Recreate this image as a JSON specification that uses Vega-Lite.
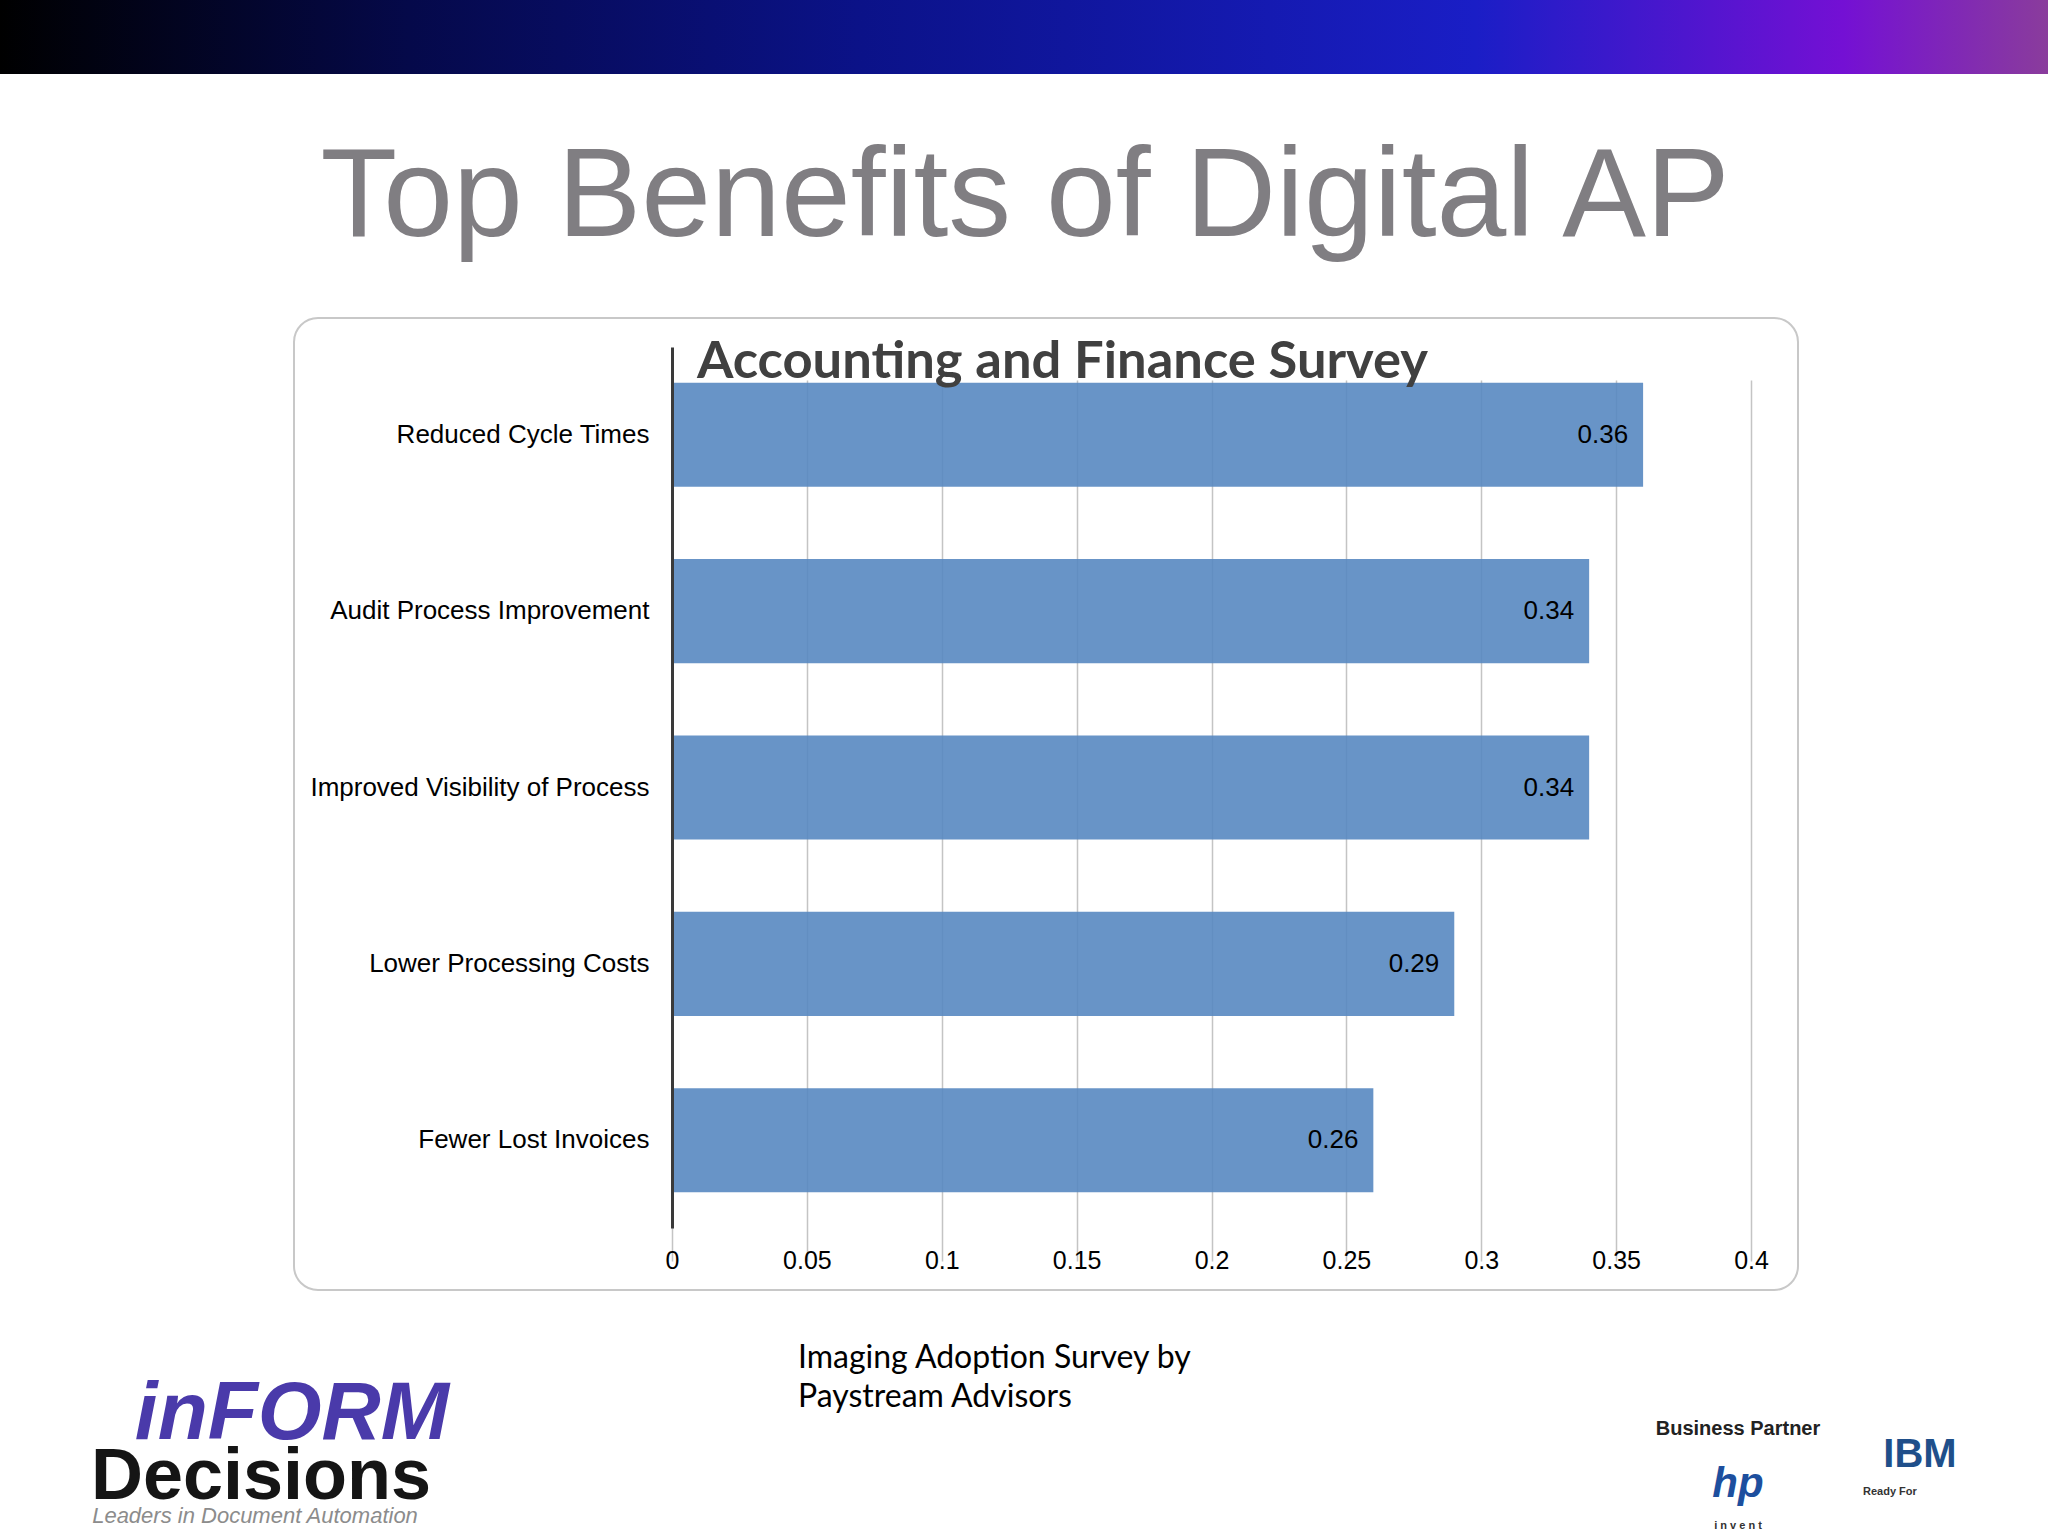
{
  "$schema": "https://vega.github.io/schema/vega-lite/v6.json",
  "background": "white",
  "padding": 0,
  "spacing": 0,
  "config": {"view": {"stroke": null}, "concat": {"spacing": 0}},
  "vconcat": [
    {
      "width": 2048,
      "height": 74,
      "data": {"values": [{"band": "header"}]},
      "mark": {
        "type": "rect",
        "fill": {
          "gradient": "linear", "x1": 0, "y1": 0, "x2": 1, "y2": 0,
          "stops": [
            {"offset": 0, "color": "#000000"},
            {"offset": 0.2, "color": "#05094a"},
            {"offset": 0.42, "color": "#0b1288"},
            {"offset": 0.72, "color": "#1a1ec6"},
            {"offset": 0.9, "color": "#7410d4"},
            {"offset": 1, "color": "#8a3c9c"}
          ]
        }
      },
      "encoding": {}
    },
    {
      "width": 2048,
      "height": 243,
      "data": {"values": [{"t": "Top Benefits of Digital AP"}]},
      "mark": {"type": "text", "font": "Liberation Sans", "fontSize": 125.5, "color": "#807e82", "baseline": "alphabetic", "align": "center", "dx": 1, "dy": 40.5},
      "encoding": {"text": {"field": "t", "type": "nominal"}}
    },
    {
      "spacing": 0,
      "hconcat": [
        {
          "width": 293,
          "height": 972,
          "data": {"values": [{"s": ""}]},
          "mark": {"type": "rect", "opacity": 0},
          "encoding": {}
        },
        {
          "width": 1504,
          "height": 972,
          "view": {"stroke": "#c8c8c8", "strokeWidth": 2, "cornerRadius": 24, "fill": "white"},
          "title": {
            "text": "Accounting and Finance Survey",
            "anchor": "start",
            "frame": "group",
            "dx": 403,
            "dy": 53,
            "offset": -59,
            "baseline": "alphabetic",
            "font": "Lato",
            "fontSize": 52.5,
            "fontWeight": "bold",
            "color": "#404040"
          },
          "data": {
            "values": [
              {"benefit": "Reduced Cycle Times", "share": 0.36},
              {"benefit": "Audit Process Improvement", "share": 0.34},
              {"benefit": "Improved Visibility of Process", "share": 0.34},
              {"benefit": "Lower Processing Costs", "share": 0.29},
              {"benefit": "Fewer Lost Invoices", "share": 0.26}
            ]
          },
          "encoding": {
            "y": {
              "field": "benefit",
              "type": "nominal",
              "sort": null,
              "scale": {"range": [29, 910], "paddingInner": 0.41, "paddingOuter": 0.2025},
              "axis": {
                "title": null,
                "orient": "left",
                "offset": -378,
                "zindex": 1,
                "domain": true,
                "domainColor": "#3a3a3a",
                "domainWidth": 3,
                "ticks": false,
                "tickSize": 0,
                "grid": false,
                "labelPadding": 23,
                "labelFont": "Liberation Sans",
                "labelFontSize": 26,
                "labelColor": "#000000",
                "labelLimit": 500
              }
            },
            "x": {
              "field": "share",
              "type": "quantitative",
              "scale": {"domain": [0, 0.4], "range": [378, 1457], "nice": false, "zero": true},
              "axis": {
                "title": null,
                "orient": "bottom",
                "offset": -62,
                "zindex": 0,
                "domain": false,
                "ticks": false,
                "tickSize": 0,
                "values": [0, 0.05, 0.1, 0.15, 0.2, 0.25, 0.3, 0.35, 0.4],
                "format": "~g",
                "labelFlush": false,
                "labelPadding": 40,
                "labelBaseline": "alphabetic",
                "labelFont": "Liberation Sans",
                "labelFontSize": 25,
                "labelColor": "#000000",
                "grid": true,
                "gridColor": "#c4c4c4",
                "gridWidth": 1.5
              }
            }
          },
          "layer": [
            {"mark": {"type": "bar", "color": "#5888c1", "fillOpacity": 0.9}},
            {
              "mark": {"type": "text", "align": "right", "baseline": "middle", "dx": -15, "font": "Liberation Sans", "fontSize": 26, "color": "#000000"},
              "encoding": {"text": {"field": "share", "type": "quantitative", "format": ".2f"}}
            }
          ]
        }
      ]
    },
    {
      "spacing": 0,
      "hconcat": [
        {
          "width": 598,
          "height": 247,
          "layer": [
            {
              "data": {"values": [{"t": "inFORM"}]},
              "mark": {"type": "text", "font": "Liberation Sans", "fontSize": 82, "fontWeight": "bold", "fontStyle": "italic", "color": "#4a3aaa", "baseline": "alphabetic", "align": "center", "dx": -7, "dy": 24},
              "encoding": {"text": {"field": "t", "type": "nominal"}}
            },
            {
              "data": {"values": [{"t": "Decisions"}]},
              "mark": {"type": "text", "font": "Liberation Sans", "fontSize": 72, "fontWeight": "bold", "color": "#151515", "baseline": "alphabetic", "align": "center", "dx": -38, "dy": 84},
              "encoding": {"text": {"field": "t", "type": "nominal"}}
            },
            {
              "data": {"values": [{"t": "Leaders in Document Automation"}]},
              "mark": {"type": "text", "font": "Liberation Sans", "fontSize": 22, "fontStyle": "italic", "color": "#8c8c8c", "baseline": "alphabetic", "align": "center", "dx": -44, "dy": 108},
              "encoding": {"text": {"field": "t", "type": "nominal"}}
            }
          ]
        },
        {
          "width": 800,
          "height": 247,
          "data": {"values": [{"note": "Imaging Adoption Survey by\nPaystream Advisors"}]},
          "mark": {"type": "text", "align": "left", "baseline": "alphabetic", "lineBreak": "\n", "lineHeight": 39, "font": "Lato", "fontSize": 32, "color": "#000000", "dx": -200, "dy": -47},
          "encoding": {"text": {"field": "note", "type": "nominal"}}
        },
        {
          "width": 650,
          "height": 247,
          "layer": [
            {
              "data": {"values": [{"t": "Business Partner"}]},
              "mark": {"type": "text", "font": "Liberation Sans", "fontSize": 20, "fontWeight": "bold", "color": "#222222", "baseline": "alphabetic", "align": "center", "dx": 15, "dy": 20.5},
              "encoding": {"text": {"field": "t", "type": "nominal"}}
            },
            {
              "data": {"values": [{"t": "hp"}]},
              "mark": {"type": "text", "font": "Liberation Sans", "fontSize": 42, "fontWeight": "bold", "fontStyle": "italic", "color": "#1d4f9e", "baseline": "alphabetic", "align": "center", "dx": 15, "dy": 82},
              "encoding": {"text": {"field": "t", "type": "nominal"}}
            },
            {
              "data": {"values": [{"t": "i n v e n t"}]},
              "mark": {"type": "text", "font": "Liberation Sans", "fontSize": 11, "fontWeight": "bold", "color": "#333333", "baseline": "alphabetic", "align": "center", "dx": 15, "dy": 114},
              "encoding": {"text": {"field": "t", "type": "nominal"}}
            },
            {
              "data": {"values": [{"t": "IBM"}]},
              "mark": {"type": "text", "font": "Liberation Sans", "fontSize": 40, "fontWeight": "bold", "color": "#1f4f8a", "baseline": "alphabetic", "align": "center", "dx": 197, "dy": 52},
              "encoding": {"text": {"field": "t", "type": "nominal"}}
            },
            {
              "data": {"values": [{"t": "Ready For"}]},
              "mark": {"type": "text", "font": "Liberation Sans", "fontSize": 11, "fontWeight": "bold", "color": "#333333", "baseline": "alphabetic", "align": "left", "dx": 140, "dy": 80},
              "encoding": {"text": {"field": "t", "type": "nominal"}}
            }
          ]
        }
      ]
    }
  ]
}
